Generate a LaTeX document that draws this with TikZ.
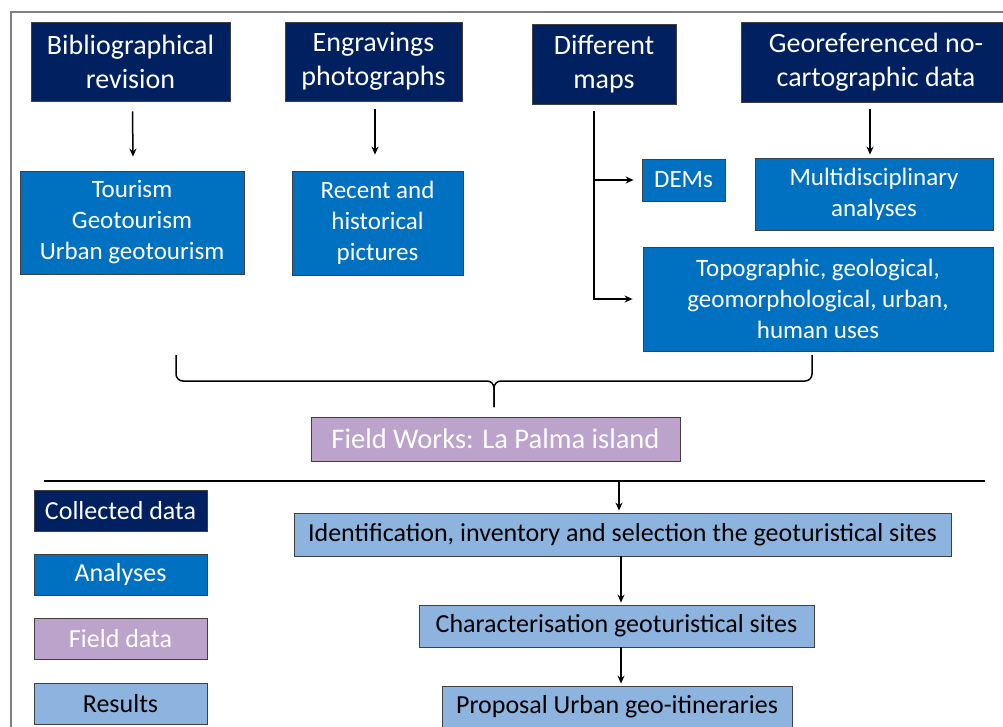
\documentclass[tikz,border=0pt]{standalone}
\usepackage{fontspec}
\setmainfont{Carlito}
\usepackage{xcolor}
\usetikzlibrary{arrows.meta}

\definecolor{navybox}{RGB}{0,32,96}
\definecolor{bluebox}{RGB}{0,112,192}
\definecolor{lilacbox}{RGB}{187,163,204}
\definecolor{resultbox}{RGB}{141,180,222}

\begin{document}
\begin{tikzpicture}[x=1pt, y=-1pt, >={Stealth[length=8pt,width=7pt]},
  base/.style={draw=black!75, line width=0.8pt, inner sep=0pt, align=center, text=white},
  collected/.style={base, fill=navybox, font=\fontsize{28}{34}\selectfont},
  analyses/.style={base, fill=bluebox, font=\fontsize{25}{31}\selectfont},
  fielddata/.style={base, fill=lilacbox, font=\fontsize{28.5}{32}\selectfont},
  results/.style={base, fill=resultbox, text=black, font=\fontsize{26}{30}\selectfont},
  legend/.style={minimum width=173, minimum height=41, font=\fontsize{26}{30}\selectfont},
  flow/.style={->, line width=1.5pt}]
  \useasboundingbox (0,0) rectangle (1003,726);

  % Frame
  \draw[gray, line width=2pt] (11,740) -- (11,12) -- (1010,12);

  % Collected data
  \node[collected, minimum width=199, minimum height=79] (biblio) at (130.5,61.5) {Bibliographical\\revision};
  \node[collected, minimum width=177, minimum height=79] (engrav) at (373.5,61.5) {Engravings\\photographs};
  \node[collected, minimum width=144, minimum height=80] (maps) at (604,64) {Different\\maps};
  \node[collected, minimum width=270, minimum height=80] (georef) at (876,62) {Georeferenced no-\\cartographic data};

  % Analyses
  \node[analyses, minimum width=224, minimum height=103] (tourism) at (132,222.5) {Tourism\\Geotourism\\Urban geotourism};
  \node[analyses, minimum width=171, minimum height=104] (pictures) at (377.5,223) {Recent and\\historical\\pictures};
  \node[analyses, minimum width=83, minimum height=42] (dems) at (683.5,180) {DEMs};
  \node[analyses, minimum width=238, minimum height=72] (multi) at (874,194) {Multidisciplinary\\analyses};
  \node[analyses, minimum width=350, minimum height=104] (topo) at (818,299) {Topographic, geological,\\geomorphological, urban,\\human uses};

  \draw[flow] ([xshift=2pt,yshift=-10pt]biblio.south) -- ([xshift=1pt,yshift=14pt]tourism.north);
  \draw[flow] ([xshift=1.5pt,yshift=-8pt]engrav.south) -- ([xshift=-2.5pt,yshift=16pt]pictures.north);
  \draw[flow] ([xshift=-6pt,yshift=-7pt]georef.south) -- ([xshift=-4pt,yshift=3pt]multi.north);

  % Different maps branches
  \coordinate (mapsfoot) at ([xshift=-10pt,yshift=-7pt]maps.south);
  \draw[flow] (mapsfoot) |- ([xshift=-10pt]topo.west);
  \draw[flow] (mapsfoot |- dems.west) -- ([xshift=-8pt]dems.west);

  % Brace
  \coordinate (braceL) at (176,355);
  \coordinate (braceR) at (812,355);
  \coordinate (bracetip) at (494,407);
  \draw[line width=1.5pt, rounded corners=7pt] (braceL) -- (braceL |- 0,381) -- (bracetip |- 0,381) -- (bracetip);
  \draw[line width=1.5pt, rounded corners=7pt] (braceR) -- (braceR |- 0,381) -- (bracetip |- 0,381) -- (bracetip);

  % Field data
  \node[fielddata, minimum width=369, minimum height=44] (fieldwork) at (495.5,439) {Field Works: La Palma island};

  % Divider
  \coordinate (divL) at (44,481);
  \coordinate (divR) at (985,481);
  \draw[line width=2pt] (divL) -- (divR);

  % Results
  \node[results, minimum width=657, minimum height=43] (ident) at (622.5,534.5) {Identification, inventory and selection the geoturistical sites};
  \node[results, minimum width=395, minimum height=42] (charac) at (616.5,626) {Characterisation geoturistical sites};
  \node[results, minimum width=350, minimum height=42] (proposal) at (617,707) {Proposal Urban geo-itineraries};

  \draw[flow] ([xshift=-3.5pt]ident.north |- divL) -- ([xshift=-3.5pt,yshift=2pt]ident.north);
  \draw[flow] ([xshift=-1.5pt]ident.south) -- ([xshift=-1.5pt,yshift=2pt]ident.south |- charac.north);
  \draw[flow] ([xshift=4.5pt]charac.south) -- ([xshift=4.5pt,yshift=2pt]charac.south |- proposal.north);

  % Legend
  \node[collected, legend] (legcol) at (120.5,510.5) {Collected data};
  \node[analyses, legend] (legana) at (120.5,574.5) {Analyses};
  \node[fielddata, legend] (legfield) at (120.5,638.5) {Field data};
  \node[results, legend] (legres) at (120.5,703.5) {Results};
\end{tikzpicture}
\end{document}
